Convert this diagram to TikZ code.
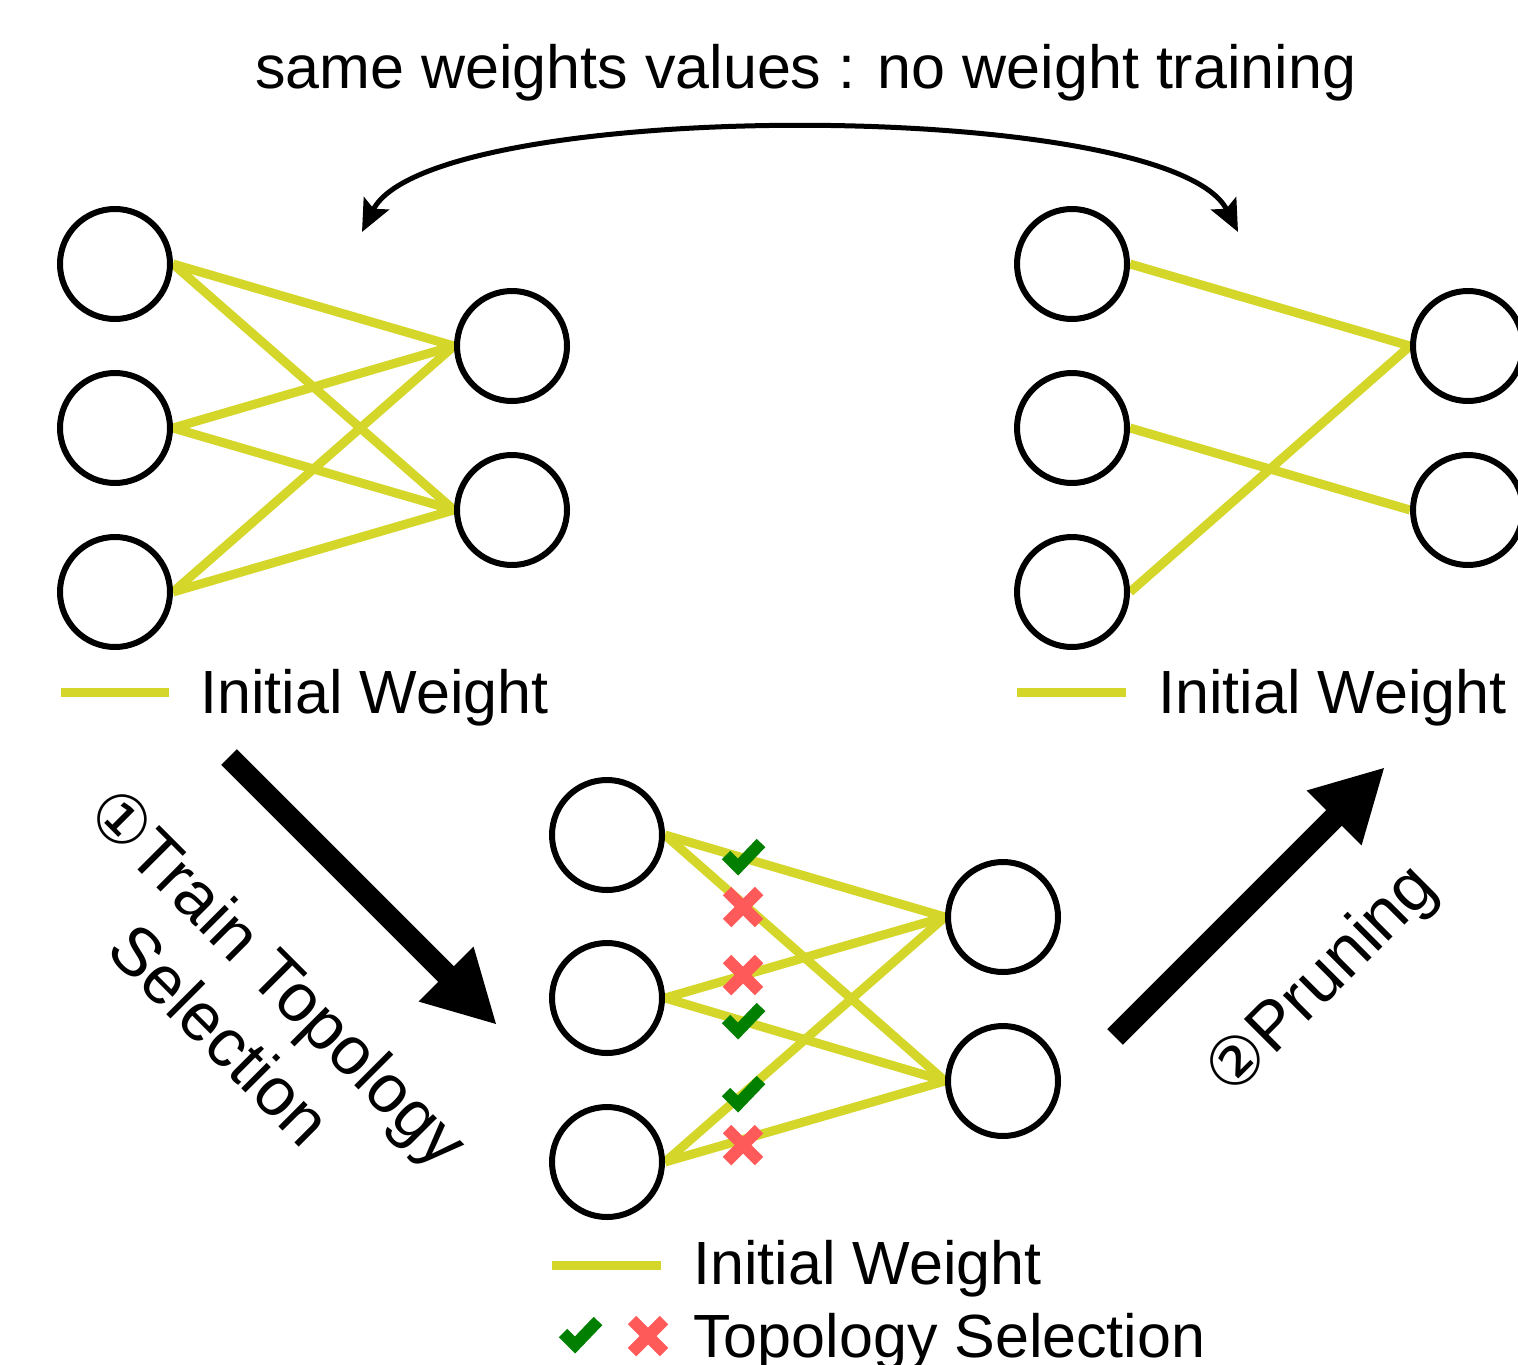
\documentclass[tikz,border=0pt]{standalone}
\usepackage{fontspec}
\setmainfont{Liberation Sans}
\newfontfamily\dejavu{DejaVu Sans}
\usetikzlibrary{arrows.meta,backgrounds}
\definecolor{wt}{RGB}{213,214,42}
\definecolor{okgreen}{RGB}{0,127,0}
\definecolor{nored}{RGB}{255,90,90}
\newcommand\chkmark[1]{\draw[okmark] (#1) ++(-17,-2) -- ++(12,12) -- ++(23,-24);}
\newcommand\crsmark[1]{\draw[nomark] (#1) ++(-16,-16) -- ++(32,32) (#1) ++(16,-16) -- ++(-32,32);}
\begin{document}
\begin{tikzpicture}[x=0.5pt,y=-0.5pt,
 neuron/.style={circle,draw=black,line width=3pt,minimum size=55pt,inner sep=0pt},
 wedge/.style={draw=wt,line width=4.5pt},
 lbl/.style={font=\fontsize{30.5}{36}\selectfont,inner sep=0pt,anchor=base west},
 rlbl/.style={font=\fontsize{34}{41}\selectfont,inner sep=0pt,align=center},
 bigarrow/.style={line width=11pt,-{Triangle[length=36pt,width=36pt]}},
 okmark/.style={draw=okgreen,line width=6pt},
 nomark/.style={draw=nored,line width=6pt},
]
\useasboundingbox (0,0) rectangle (1518,1364);

% ---------- left network
\node[neuron] (L1) at (115,264) {};
\node[neuron] (L2) at (115,428) {};
\node[neuron] (L3) at (115,592) {};
\node[neuron] (LO1) at (512,346) {};
\node[neuron] (LO2) at (512,510) {};
\begin{scope}[on background layer]
\foreach \i in {L1,L2,L3}{
  \foreach \o in {LO1,LO2}{ \draw[wedge] (\i.east) -- (\o.west); }}
\end{scope}
\coordinate (LLa) at (61,692);
\coordinate (LLb) at (169,692);
\draw[wedge] (LLa) -- (LLb);
\node[lbl] (LLt) at (200,713) {Initial Weight};

% ---------- right network
\node[neuron] (R1) at (1072,264) {};
\node[neuron] (R2) at (1072,428) {};
\node[neuron] (R3) at (1072,592) {};
\node[neuron] (RO1) at (1468,346) {};
\node[neuron] (RO2) at (1468,510) {};
\begin{scope}[on background layer]
\draw[wedge] (R1.east) -- (RO1.west);
\draw[wedge] (R2.east) -- (RO2.west);
\draw[wedge] (R3.east) -- (RO1.west);
\end{scope}
\coordinate (RLa) at (1017,692);
\coordinate (RLb) at (1126,692);
\draw[wedge] (RLa) -- (RLb);
\node[lbl] (RLt) at (1158,713) {Initial Weight};

% ---------- middle network
\node[neuron] (M1) at (607,835) {};
\node[neuron] (M2) at (607,998) {};
\node[neuron] (M3) at (607,1162) {};
\node[neuron] (MO1) at (1003,917) {};
\node[neuron] (MO2) at (1003,1081) {};
\begin{scope}[on background layer]
\foreach \i in {M1,M2,M3}{
  \foreach \o in {MO1,MO2}{ \draw[wedge] (\i.east) -- (\o.west); }}
\end{scope}
\chkmark{743,857}
\crsmark{743,907}
\crsmark{743,975}
\chkmark{743,1021}
\chkmark{743,1094}
\crsmark{743,1145}

\coordinate (MLa) at (552,1265);
\coordinate (MLb) at (661,1265);
\draw[wedge] (MLa) -- (MLb);
\node[lbl] (MLt) at (693,1284) {Initial Weight};
\chkmark{580,1335}
\crsmark{648,1336}
\node[lbl] (MLs) at (693,1357) {Topology Selection};

% ---------- top text and arrow
\node[lbl] (top) at (255,89) {same weights values : no weight training};
\coordinate (TA) at (362,232);
\coordinate (TB) at (1238,232);
\draw[line width=2.5pt,{Stealth[length=16pt,width=14pt,inset=3pt]}-{Stealth[length=16pt,width=14pt,inset=3pt]}]
  (TA) .. controls (430,97) and (1170,97) .. (TB);

% ---------- big arrows
\coordinate (A1s) at (229,757);
\coordinate (A1e) at (497,1025);
\draw[bigarrow] (A1s) -- (A1e);
\coordinate (A2s) at (1115,1037);
\coordinate (A2e) at (1385,767);
\draw[bigarrow] (A2s) -- (A2e);

\node[rlbl,rotate=-45] (step1) at (250,1005) {{\dejavu\fontsize{33}{40}\selectfont ①}Train Topology\\Selection};
\node[rlbl,rotate=45] (step2) at (1323,982) {{\dejavu\fontsize{33}{40}\selectfont ②}Pruning};
\end{tikzpicture}
\end{document}
